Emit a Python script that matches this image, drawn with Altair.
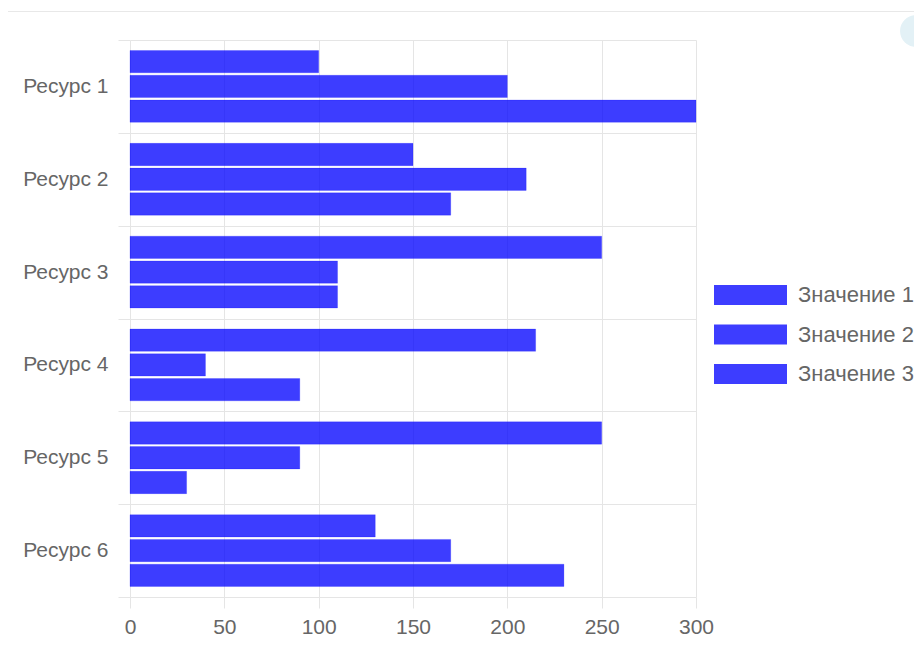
import altair as alt
import pandas as pd

resources = ["Ресурс 1", "Ресурс 2", "Ресурс 3", "Ресурс 4", "Ресурс 5", "Ресурс 6"]
series = ["Значение 1", "Значение 2", "Значение 3"]
values_1 = [100, 150, 250, 215, 250, 130]
values_2 = [200, 210, 110, 40, 90, 170]
values_3 = [300, 170, 110, 90, 30, 230]
x_ticks = [0, 50, 100, 150, 200, 250, 300]

rows = []
for i, r in enumerate(resources):
    for s, vals in zip(series, [values_1, values_2, values_3]):
        rows.append({"resource": r, "series": s, "value": vals[i]})
df = pd.DataFrame(rows)

FONT = "Liberation Sans"
GRID = "#e5e5e5"
LABEL = "#666666"
BAR = "#0000ff"
FS = 21

one = pd.DataFrame({"a": [0]})

card = alt.Chart(one).mark_rect(fill="transparent", stroke="#e8e8e8", strokeWidth=1).encode(
    x=alt.value(-124.5), x2=alt.value(820), y=alt.value(-28.5), y2=alt.value(620)
)

dot = alt.Chart(one).mark_circle(color="#e3f1f6", opacity=1, size=1018).encode(
    x=alt.value(786), y=alt.value(-9)
)

bars = alt.Chart(df).mark_bar(
    fill=BAR, fillOpacity=0.76, stroke=BAR, strokeOpacity=0.2, strokeWidth=1
).encode(
    y=alt.Y("resource:N", sort=resources, title=None,
            scale=alt.Scale(paddingInner=0, paddingOuter=0),
            axis=alt.Axis(tickBand="extent", grid=True, gridColor=GRID, tickColor=GRID,
                          tickSize=12, domain=False, labelPadding=10, labelColor=LABEL,
                          labelFont=FONT, labelFontSize=FS)),
    yOffset=alt.YOffset("series:N", sort=series,
                        scale=alt.Scale(paddingInner=0.1, paddingOuter=0.425)),
    x=alt.X("value:Q", title=None,
            scale=alt.Scale(domain=[0, 300], nice=False),
            axis=alt.Axis(values=x_ticks, grid=True, gridColor=GRID, tickColor=GRID,
                          tickSize=11, domain=False, labelPadding=8, labelColor=LABEL,
                          labelFlush=False, labelFont=FONT, labelFontSize=FS)),
    color=alt.Color("series:N", sort=series,
                    scale=alt.Scale(domain=series, range=[BAR, BAR, BAR]),
                    legend=alt.Legend(
                        title=None, orient="none", legendX=609.5, legendY=244,
                        padding=0, symbolType="M-3.65,-1H3.65V1H-3.65Z", symbolSize=400,
                        symbolOpacity=0.76, symbolStrokeWidth=0, symbolOffset=0,
                        labelOffset=36.5, labelFont=FONT, labelFontSize=22,
                        labelColor=LABEL, rowPadding=17.5)),
)

chart = alt.layer(card, dot, bars).properties(
    width=566, height=557,
    autosize=alt.AutoSizeParams(type="none"),
    padding={"left": 122, "top": 32, "right": 218, "bottom": 46},
).configure_view(stroke=None)

chart.save("out.html", embed_options={"renderer": "svg", "actions": False})
